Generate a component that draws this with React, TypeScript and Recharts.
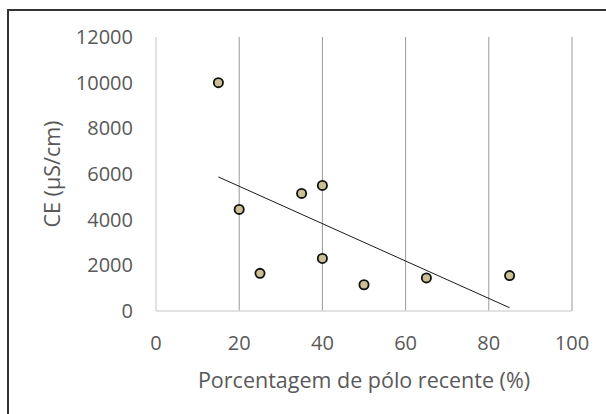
import React from 'react';
import { ScatterChart, Scatter, XAxis, YAxis, ReferenceLine } from 'recharts';

// % recent pole vs electrical conductivity
const pctRecent = [15, 20, 25, 35, 40, 40, 50, 65, 85];
const ceValues = [10000, 4450, 1650, 5150, 5500, 2300, 1150, 1450, 1550];

const X_TICKS = [0, 20, 40, 60, 80, 100];
const Y_TICKS = [0, 2000, 4000, 6000, 8000, 10000, 12000];
const GRID_X = [20, 40, 60, 80, 100];

const X_TITLE = 'Porcentagem de pólo recente (%)';
const Y_TITLE = 'CE (µS/cm)';

const FONT = '"Open Sans", sans-serif';
const TEXT = '#595959';

const points = pctRecent.map((x, i) => ({ x, y: ceValues[i] }));

// linear trendline (least squares), like the spreadsheet one
const n = points.length;
const mx = pctRecent.reduce((a, b) => a + b, 0) / n;
const my = ceValues.reduce((a, b) => a + b, 0) / n;
let sxy = 0;
let sxx = 0;
points.forEach(p => {
  sxy += (p.x - mx) * (p.y - my);
  sxx += (p.x - mx) * (p.x - mx);
});
const slope = sxy / sxx;
const xMin = Math.min(...pctRecent);
const xMax = Math.max(...pctRecent);
const trend = [
  { x: xMin, y: my + slope * (xMin - mx) },
  { x: xMax, y: my + slope * (xMax - mx) },
];

const Dot = (props: any) => {
  const { cx, cy } = props;
  if (cx == null || cy == null) return <g />;
  return <circle cx={cx} cy={cy} r={4.6} fill="#cbbf94" stroke="#111" strokeWidth={1.8} />;
};

const YTitle = (props: any) => {
  const vb = props.viewBox || {};
  const cx = 51;
  const cy = vb.y + vb.height / 2;
  return (
    <text x={cx} y={cy} transform={`rotate(-90 ${cx} ${cy})`} textAnchor="middle" dominantBaseline="central"
      fill={TEXT} fontSize={21.5} fontFamily={FONT}>
      {Y_TITLE}
    </text>
  );
};

const XTitle = (props: any) => {
  const vb = props.viewBox || {};
  const cx = vb.x + vb.width / 2;
  return (
    <text x={cx} y={379} textAnchor="middle" dominantBaseline="central" fill={TEXT} fontSize={21.5} fontFamily={FONT}>
      {X_TITLE}
    </text>
  );
};

const App: React.FC = () => {
  const tick = { fill: TEXT, fontSize: 20, fontFamily: FONT };
  return (
    <div style={{ position: 'fixed', left: 0, top: 0, width: 606, height: 414, overflow: 'hidden', background: '#fff' }}>
      <div style={{ position: 'absolute', left: 7, top: 9, width: 640, height: 460, borderLeft: '2px solid #333', borderTop: '2px solid #333' }} />
      <div style={{ position: 'absolute', left: 0, top: 0 }}>
        <ScatterChart width={606} height={414} margin={{ top: 37, right: 34, bottom: 0, left: 0 }}>
          <XAxis
            type="number"
            dataKey="x"
            domain={[0, 100]}
            ticks={X_TICKS}
            interval={0}
            height={103}
            tickLine={false}
            tickSize={0}
            tickMargin={25}
            axisLine={{ stroke: '#d9d9d9', strokeWidth: 1.5 }}
            tick={tick}
            label={<XTitle />}
          />
          <YAxis
            type="number"
            dataKey="y"
            domain={[0, 12000]}
            ticks={Y_TICKS}
            interval={0}
            width={156}
            tickLine={false}
            tickSize={0}
            tickMargin={23}
            axisLine={{ stroke: '#d9d9d9', strokeWidth: 1.5 }}
            tick={tick}
            label={<YTitle />}
          />
          {GRID_X.map(v => (
            <ReferenceLine key={v} x={v} stroke="#999" strokeWidth={1} />
          ))}
          <Scatter data={trend} line={{ stroke: '#1a1a1a', strokeWidth: 1 }} shape={() => <g />} isAnimationActive={false} />
          <Scatter data={points} shape={<Dot />} isAnimationActive={false} />
        </ScatterChart>
      </div>
    </div>
  );
};

export default App;
